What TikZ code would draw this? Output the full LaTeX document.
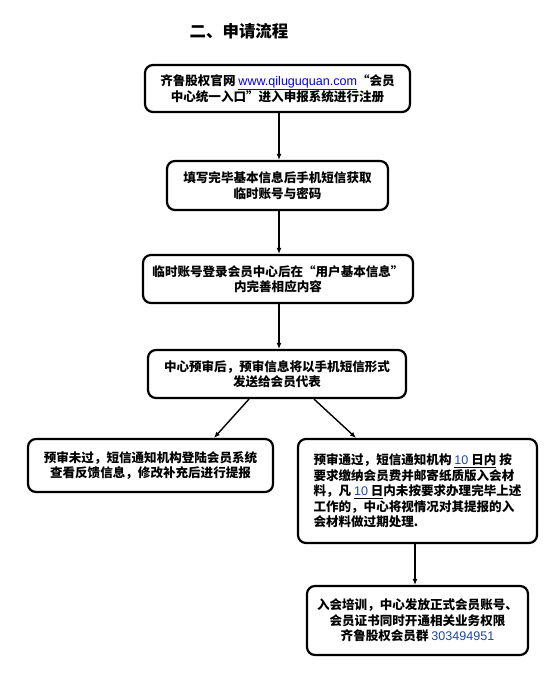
\documentclass[tikz,border=0pt]{standalone}
\usepackage{fontspec}
\IfFontExistsTF{Noto Sans CJK SC Black}
  {\setmainfont{Noto Sans CJK SC}[BoldFont={Noto Sans CJK SC Black}]}
  {\setmainfont{Noto Sans CJK SC}}
\newfontfamily\latinf{Liberation Sans}
\usetikzlibrary{arrows.meta}
\definecolor{urlblue}{RGB}{0,0,230}
\definecolor{numblue}{RGB}{30,70,160}
\newcommand{\lat}[1]{{\latinf\mdseries #1}}
\tikzset{
  box/.style={draw, line width=2.2bp, rounded corners=8bp, inner sep=0pt,
    align=center, font=\bfseries\fontsize{12.6}{15.6}\selectfont},
  arr/.style={-{Latex[length=6bp,width=5bp]}, line width=1.4bp}
}
\begin{document}
\begin{tikzpicture}[x=1bp,y=-1bp]
\useasboundingbox (0,0) rectangle (555,686);
\node (title) at (239,31) {\bfseries\fontsize{16.5}{18}\selectfont 二、申请流程};
\node[box, minimum width=265bp, minimum height=47bp] (b1) at (277.5,88.5)
  {齐鲁股权官网 \textcolor{urlblue}{\underline{\lat{www.qiluguquan.com}}}“会员\\中心统一入口”进入申报系统进行注册};
\node[box, minimum width=221bp, minimum height=49bp] (b2) at (277.5,185.5)
  {填写完毕基本信息后手机短信获取\\临时账号与密码};
\node[box, minimum width=270bp, minimum height=48bp] (b3) at (278,279)
  {临时账号登录会员中心后在“用户基本信息”\\内完善相应内容};
\node[box, minimum width=258bp, minimum height=48bp] (b4) at (277,374)
  {中心预审后，预审信息将以手机短信形式\\发送给会员代表};
\node[box, minimum width=245bp, minimum height=53bp] (b5) at (150.5,465.5)
  {预审未过，短信通知机构登陆会员系统\\查看反馈信息，修改补充后进行提报};
\node[box, minimum width=239bp, minimum height=104bp, align=left] (b6) at (417.5,491)
  {预审通过，短信通知机构 \underline{\textcolor{numblue}{\lat{10}} 日内} 按\\
   要求缴纳会员费并邮寄纸质版入会材\\
   料，凡 \underline{\textcolor{numblue}{\lat{10}} 日}内未按要求办理完毕上述\\
   工作的，中心将视情况对其提报的入\\
   会材料做过期处理.};
\node[box, minimum width=221bp, minimum height=69bp] (b7) at (417.5,620.5)
  {入会培训，中心发放正式会员账号、\\会员证书同时开通相关业务权限\\齐鲁股权会员群 \textcolor{numblue}{\lat{303494951}}};
\draw[arr] ([xshift=1.5bp]b1.south) -- ([xshift=1.5bp]b1.south |- b2.north);
\draw[arr] ([xshift=1.5bp]b2.south) -- ([xshift=1.5bp]b2.south |- b3.north);
\draw[arr] ([xshift=1bp]b3.south) -- ([xshift=1bp]b3.south |- b4.north);
\draw[arr] ([xshift=-28bp]b4.south) -- ([xshift=63.5bp]b5.north);
\draw[arr] ([xshift=37bp]b4.south) -- ([xshift=-61.5bp]b6.north);
\draw[arr] ([xshift=-2.5bp]b6.south) -- ([xshift=-2.5bp]b6.south |- b7.north);
\end{tikzpicture}
\end{document}
